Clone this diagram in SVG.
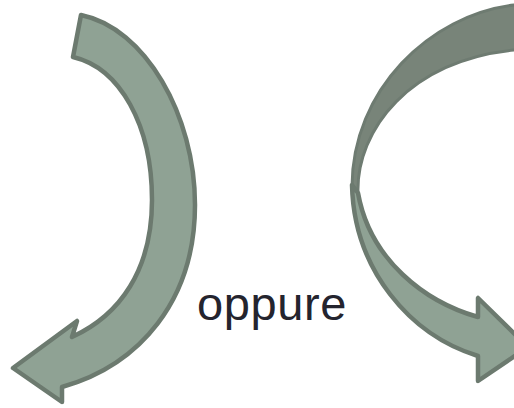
<svg xmlns="http://www.w3.org/2000/svg" width="514" height="408" viewBox="0 0 514 408">
<style>
.front{fill:#8FA294;stroke:#6C7A6F;stroke-width:4.5;stroke-linejoin:round}
.back{fill:#788479;stroke:#6E7B71;stroke-width:3;stroke-linejoin:round}
.lbl{font-family:"Liberation Sans",Arial,sans-serif;font-size:47px;letter-spacing:0.6px;fill:#24242E}
</style>
<rect width="514" height="408" fill="#FFFFFF"/>
<g id="left-arrow">
<path class="front" d="M 81,15 C 145,28 195,115 195,205 C 195,300 140,365 62,387 L 62,402 L 13,368 L 77,321 L 72,337 C 120,315 152,270 152,200 C 152,125 120,68 73,57 Z"/>
</g>
<g id="right-arrow">
<path class="back" d="M 540,3 L 514,5 C 430,15 352,90 352,187 L 358,193 C 356,130 410,60 514,50 L 540,49 Z"/>
<path class="front" d="M 352,185 C 354,270 410,335 478,356 L 478,381 L 528,347 L 478,298 L 478,317 C 425,302 370,260 358,193 Z"/>
</g>
<g id="label">
<text class="lbl" x="197" y="320">oppure</text>
</g>
</svg>
